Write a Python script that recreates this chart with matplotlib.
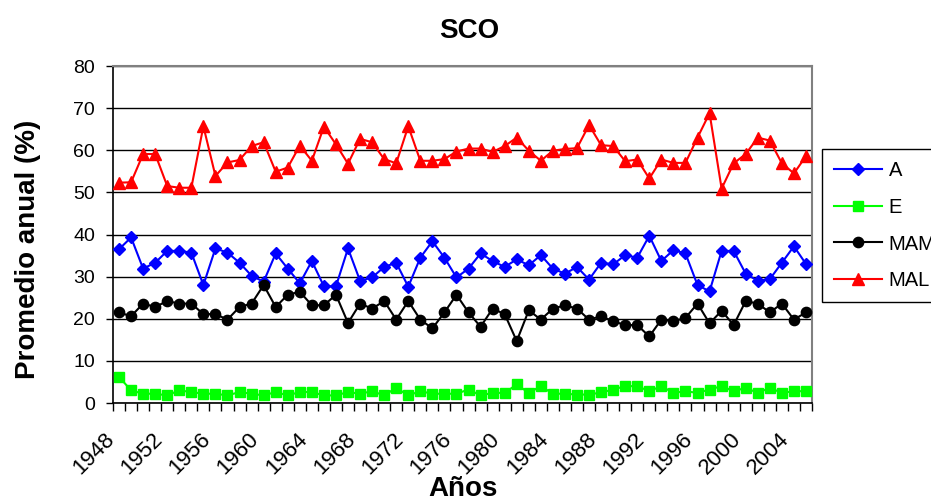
import matplotlib
matplotlib.use("Agg")
import matplotlib.pyplot as plt  # noqa: E402
import matplotlib.transforms as mtransforms  # noqa: E402
import numpy as np  # noqa: E402

plt.rcParams["font.family"] = ["Liberation Sans", "DejaVu Sans"]

# años 1948-2005
years = list(range(1948, 2006))
tick_years = list(range(1948, 2006, 4))

serie_a = [36.5, 39.3, 31.9, 33.3, 36.1, 36.1, 35.7, 28.0, 36.7, 35.7,
           33.3, 30.2, 28.8, 35.5, 31.9, 28.4, 33.7, 27.7, 27.7, 36.7,
           29.0, 29.8, 32.3, 33.3, 27.6, 34.5, 38.4, 34.5, 29.8, 31.9,
           35.5, 33.7, 32.3, 34.1, 32.7, 35.1, 31.9, 30.7, 32.3, 29.3,
           33.3, 32.9, 35.1, 34.5, 39.7, 33.7, 36.3, 35.5, 28.0, 26.5,
           36.1, 36.1, 30.7, 29.0, 29.4, 33.3, 37.2, 33.0]
serie_e = [6.2, 3.0, 2.2, 2.2, 1.8, 3.0, 2.6, 2.2, 2.2, 1.8,
           2.6, 2.2, 1.8, 2.6, 1.8, 2.6, 2.6, 1.8, 1.8, 2.6,
           2.2, 2.8, 1.8, 3.6, 1.8, 2.8, 2.2, 2.2, 2.2, 3.2,
           1.8, 2.4, 2.4, 4.4, 2.4, 4.0, 2.2, 2.2, 2.0, 2.0,
           2.5, 3.2, 4.0, 4.0, 2.8, 4.0, 2.4, 2.8, 2.4, 3.2,
           4.0, 2.8, 3.6, 2.4, 3.6, 2.4, 2.8, 2.8]
serie_mam = [21.5, 20.6, 23.6, 22.8, 24.2, 23.6, 23.6, 21.1, 21.1, 19.8,
             22.8, 23.6, 28.0, 22.8, 25.7, 26.4, 23.2, 23.2, 25.7, 19.0,
             23.6, 22.4, 24.2, 19.8, 24.2, 19.8, 17.7, 21.5, 25.7, 21.5,
             18.1, 22.4, 21.1, 14.7, 22.0, 19.8, 22.4, 23.2, 22.4, 19.8,
             20.6, 19.4, 18.5, 18.5, 15.8, 19.8, 19.4, 20.2, 23.6, 18.9,
             21.9, 18.5, 24.2, 23.6, 21.5, 23.6, 19.8, 21.5]
serie_mal = [52.3, 52.4, 59.1, 59.1, 51.5, 51.1, 51.1, 65.7, 53.9, 57.1,
             57.7, 61.0, 61.9, 54.9, 55.9, 61.1, 57.5, 65.6, 61.4, 56.8,
             62.7, 61.9, 57.9, 56.9, 65.7, 57.5, 57.5, 57.9, 59.7, 60.4,
             60.4, 59.6, 61.0, 63.0, 59.9, 57.5, 59.9, 60.3, 60.5, 66.0,
             61.2, 61.0, 57.4, 57.8, 53.3, 57.8, 57.0, 57.0, 63.0, 68.8,
             50.9, 56.9, 59.1, 63.0, 62.3, 56.9, 54.5, 58.6]

x = np.arange(len(years))

fig = plt.figure(figsize=(9.31, 4.98), dpi=100)
ax = fig.add_axes([113 / 931, 1 - 403 / 498, 699 / 931, 337 / 498])

lw = 1.5
ax.plot(x, serie_a, color="#0000ff", lw=lw, marker="D", ms=6.5,
        mec="#0000ff", label="A", zorder=3)
ax.plot(x, serie_e, color="#00ff00", lw=lw, marker="s", ms=7,
        mec="#00ff00", label="E", zorder=3)
ax.plot(x, serie_mam, color="black", lw=lw, marker="o", ms=7.4,
        label="MAM", zorder=3)
ax.plot(x, serie_mal, color="#ff0000", lw=lw, marker="^", ms=8.8,
        mec="#ff0000", label="MAL", zorder=3)

ax.set_xlim(-0.5, len(years) - 0.5)
ax.set_ylim(0, 80)
ax.set_yticks(range(0, 81, 10))
ax.grid(axis="y", color="black", lw=1.0, zorder=1)
ax.set_axisbelow(True)

ax.set_xticks([years.index(y) for y in tick_years])
ax.tick_params(axis="x", which="major", length=0, pad=26.5)
ax.set_xticklabels([str(y) for y in tick_years], rotation=45, fontsize=16,
                   ha="right", va="baseline", rotation_mode="anchor")
# desplazar etiquetas un poco a la izquierda
shift = mtransforms.ScaledTranslation(-4 / 100, 0, fig.dpi_scale_trans)
for lbl in ax.get_xticklabels():
    lbl.set_transform(lbl.get_transform() + shift)
ax.set_xticks(np.arange(-0.5, len(years)), minor=True)
ax.tick_params(axis="x", which="minor", length=6, width=1, direction="out")
ax.tick_params(axis="y", length=5, width=1, pad=8, labelsize=14)

for s in ("top", "right"):
    ax.spines[s].set_color("#808080")
    ax.spines[s].set_linewidth(1.5)
for s in ("left", "bottom"):
    ax.spines[s].set_color("black")
    ax.spines[s].set_linewidth(1.2)

fig.text(0.5043, 1 - 38 / 498, "SCO", fontsize=20, fontweight="bold",
         ha="center", va="baseline")
fig.text(463 / 931, 0.004, "Años", fontsize=20, fontweight="bold",
         ha="center", va="baseline")
fig.text(35 / 931, 1 - 249 / 498, "Promedio anual (%)", fontsize=20,
         fontweight="bold", rotation=90, rotation_mode="anchor",
         ha="center", va="baseline")

leg = fig.legend(loc="upper left", bbox_to_anchor=(822 / 931, 1 - 149 / 498),
                 borderaxespad=0, fontsize=14.5, handlelength=2.4,
                 handletextpad=0.3, labelspacing=0.88, fancybox=False,
                 framealpha=1, edgecolor="black", borderpad=0.6)
leg.get_frame().set_linewidth(1.0)

fig.savefig("out.png", dpi=100)
